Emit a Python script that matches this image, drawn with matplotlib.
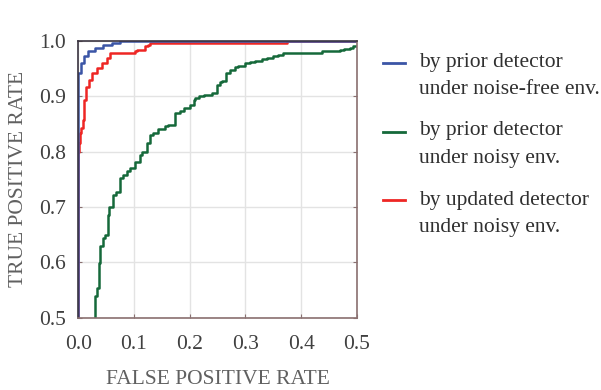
import matplotlib
matplotlib.use("Agg")
import matplotlib.pyplot as plt
from matplotlib.lines import Line2D

plt.rcParams['font.family'] = ['Liberation Serif', 'DejaVu Serif']

# ROC points (false positive rate, true positive rate)
fpr_clean = [0.0, 0.0, 0.006, 0.011, 0.018, 0.030, 0.045, 0.060, 0.075, 0.085, 0.5]
tpr_clean = [0.0, 0.930, 0.942, 0.960, 0.972, 0.981, 0.987, 0.993, 0.997, 1.0, 1.0]

fpr_noisy = [0.030, 0.034, 0.038, 0.039, 0.044, 0.048, 0.054, 0.056, 0.063, 0.068,
             0.075, 0.081, 0.087, 0.093, 0.102, 0.111, 0.114, 0.123, 0.129, 0.135,
             0.144, 0.156, 0.162, 0.174, 0.183, 0.189, 0.201, 0.207, 0.210, 0.216,
             0.225, 0.240, 0.249, 0.254, 0.258, 0.266, 0.272, 0.281, 0.287, 0.299,
             0.308, 0.317, 0.329, 0.338, 0.350, 0.359, 0.368, 0.371, 0.437, 0.443,
             0.470, 0.476, 0.487, 0.493, 0.500]
tpr_noisy = [0.500, 0.539, 0.553, 0.599, 0.629, 0.644, 0.650, 0.686, 0.700, 0.722,
             0.728, 0.752, 0.758, 0.766, 0.770, 0.782, 0.794, 0.799, 0.815, 0.830,
             0.834, 0.841, 0.847, 0.848, 0.869, 0.874, 0.879, 0.884, 0.894, 0.897,
             0.901, 0.902, 0.906, 0.921, 0.925, 0.927, 0.942, 0.948, 0.953, 0.955,
             0.960, 0.962, 0.964, 0.967, 0.969, 0.972, 0.975, 0.978, 0.978, 0.981,
             0.982, 0.984, 0.986, 0.988, 0.991]

fpr_updated = [0.0, 0.002, 0.003, 0.006, 0.009, 0.011, 0.015, 0.019, 0.025, 0.033,
               0.043, 0.051, 0.057, 0.060, 0.102, 0.105, 0.120, 0.126, 0.129, 0.150,
               0.375, 0.380, 0.5]
tpr_updated = [0.0, 0.800, 0.816, 0.834, 0.842, 0.857, 0.893, 0.917, 0.930, 0.942,
               0.951, 0.960, 0.969, 0.978, 0.978, 0.981, 0.984, 0.990, 0.993, 0.996,
               0.997, 1.0, 1.0]

labels = ["by prior detector\nunder noise-free env.",
          "by prior detector\nunder noisy env.",
          "by updated detector\nunder noisy env."]
colors = ["#3b55a6", "#15693a", "#ee2624"]

fig = plt.figure(figsize=(6.01, 3.90), dpi=100)
ax = fig.add_axes([0.13, 0.185, 0.464, 0.71])

ax.plot(fpr_updated, tpr_updated, color=colors[2], lw=1.8, drawstyle="steps-pre")
ax.plot(fpr_noisy, tpr_noisy, color=colors[1], lw=1.8, drawstyle="steps-pre")
ax.plot(fpr_clean, tpr_clean, color=colors[0], lw=1.8, drawstyle="steps-pre")

ax.set_xlim(0, 0.5)
ax.set_ylim(0.5, 1.0)
ax.set_xticks([0.0, 0.1, 0.2, 0.3, 0.4, 0.5])
ax.set_yticks([0.5, 0.6, 0.7, 0.8, 0.9, 1.0])
ax.grid(True, color="#e3e3e3", lw=1)
ax.set_axisbelow(True)
for k, s in ax.spines.items():
    s.set_linewidth(1.2)
    s.set_color("#3a3440" if k in ("top", "left") else "#8a7070")
ax.tick_params(direction="in", length=3, right=True, colors="#8a7070",
               labelcolor="#404040", labelsize=15.5)
ax.tick_params(axis="x", pad=12)
ax.tick_params(axis="y", pad=9)
ax.set_xlabel("FALSE POSITIVE RATE", fontsize=15.5, color="#606060", labelpad=12)
ax.set_ylabel("TRUE POSITIVE RATE", fontsize=15.5, color="#606060", labelpad=8)

# legend drawn by hand so the line sits next to the first text row
for i, (lab, c) in enumerate(zip(labels, colors)):
    hy = 1 - (63 + 68.5 * i) / 390
    ty = 1 - (52.5 + 69 * i) / 390
    fig.add_artist(Line2D([0.637, 0.674], [hy, hy], color=c, lw=2,
                          transform=fig.transFigure))
    fig.text(0.697, ty, lab, fontsize=15.5, color="#303030", va="top", ha="left",
             linespacing=1.6)

fig.savefig("out.png", dpi=100)
